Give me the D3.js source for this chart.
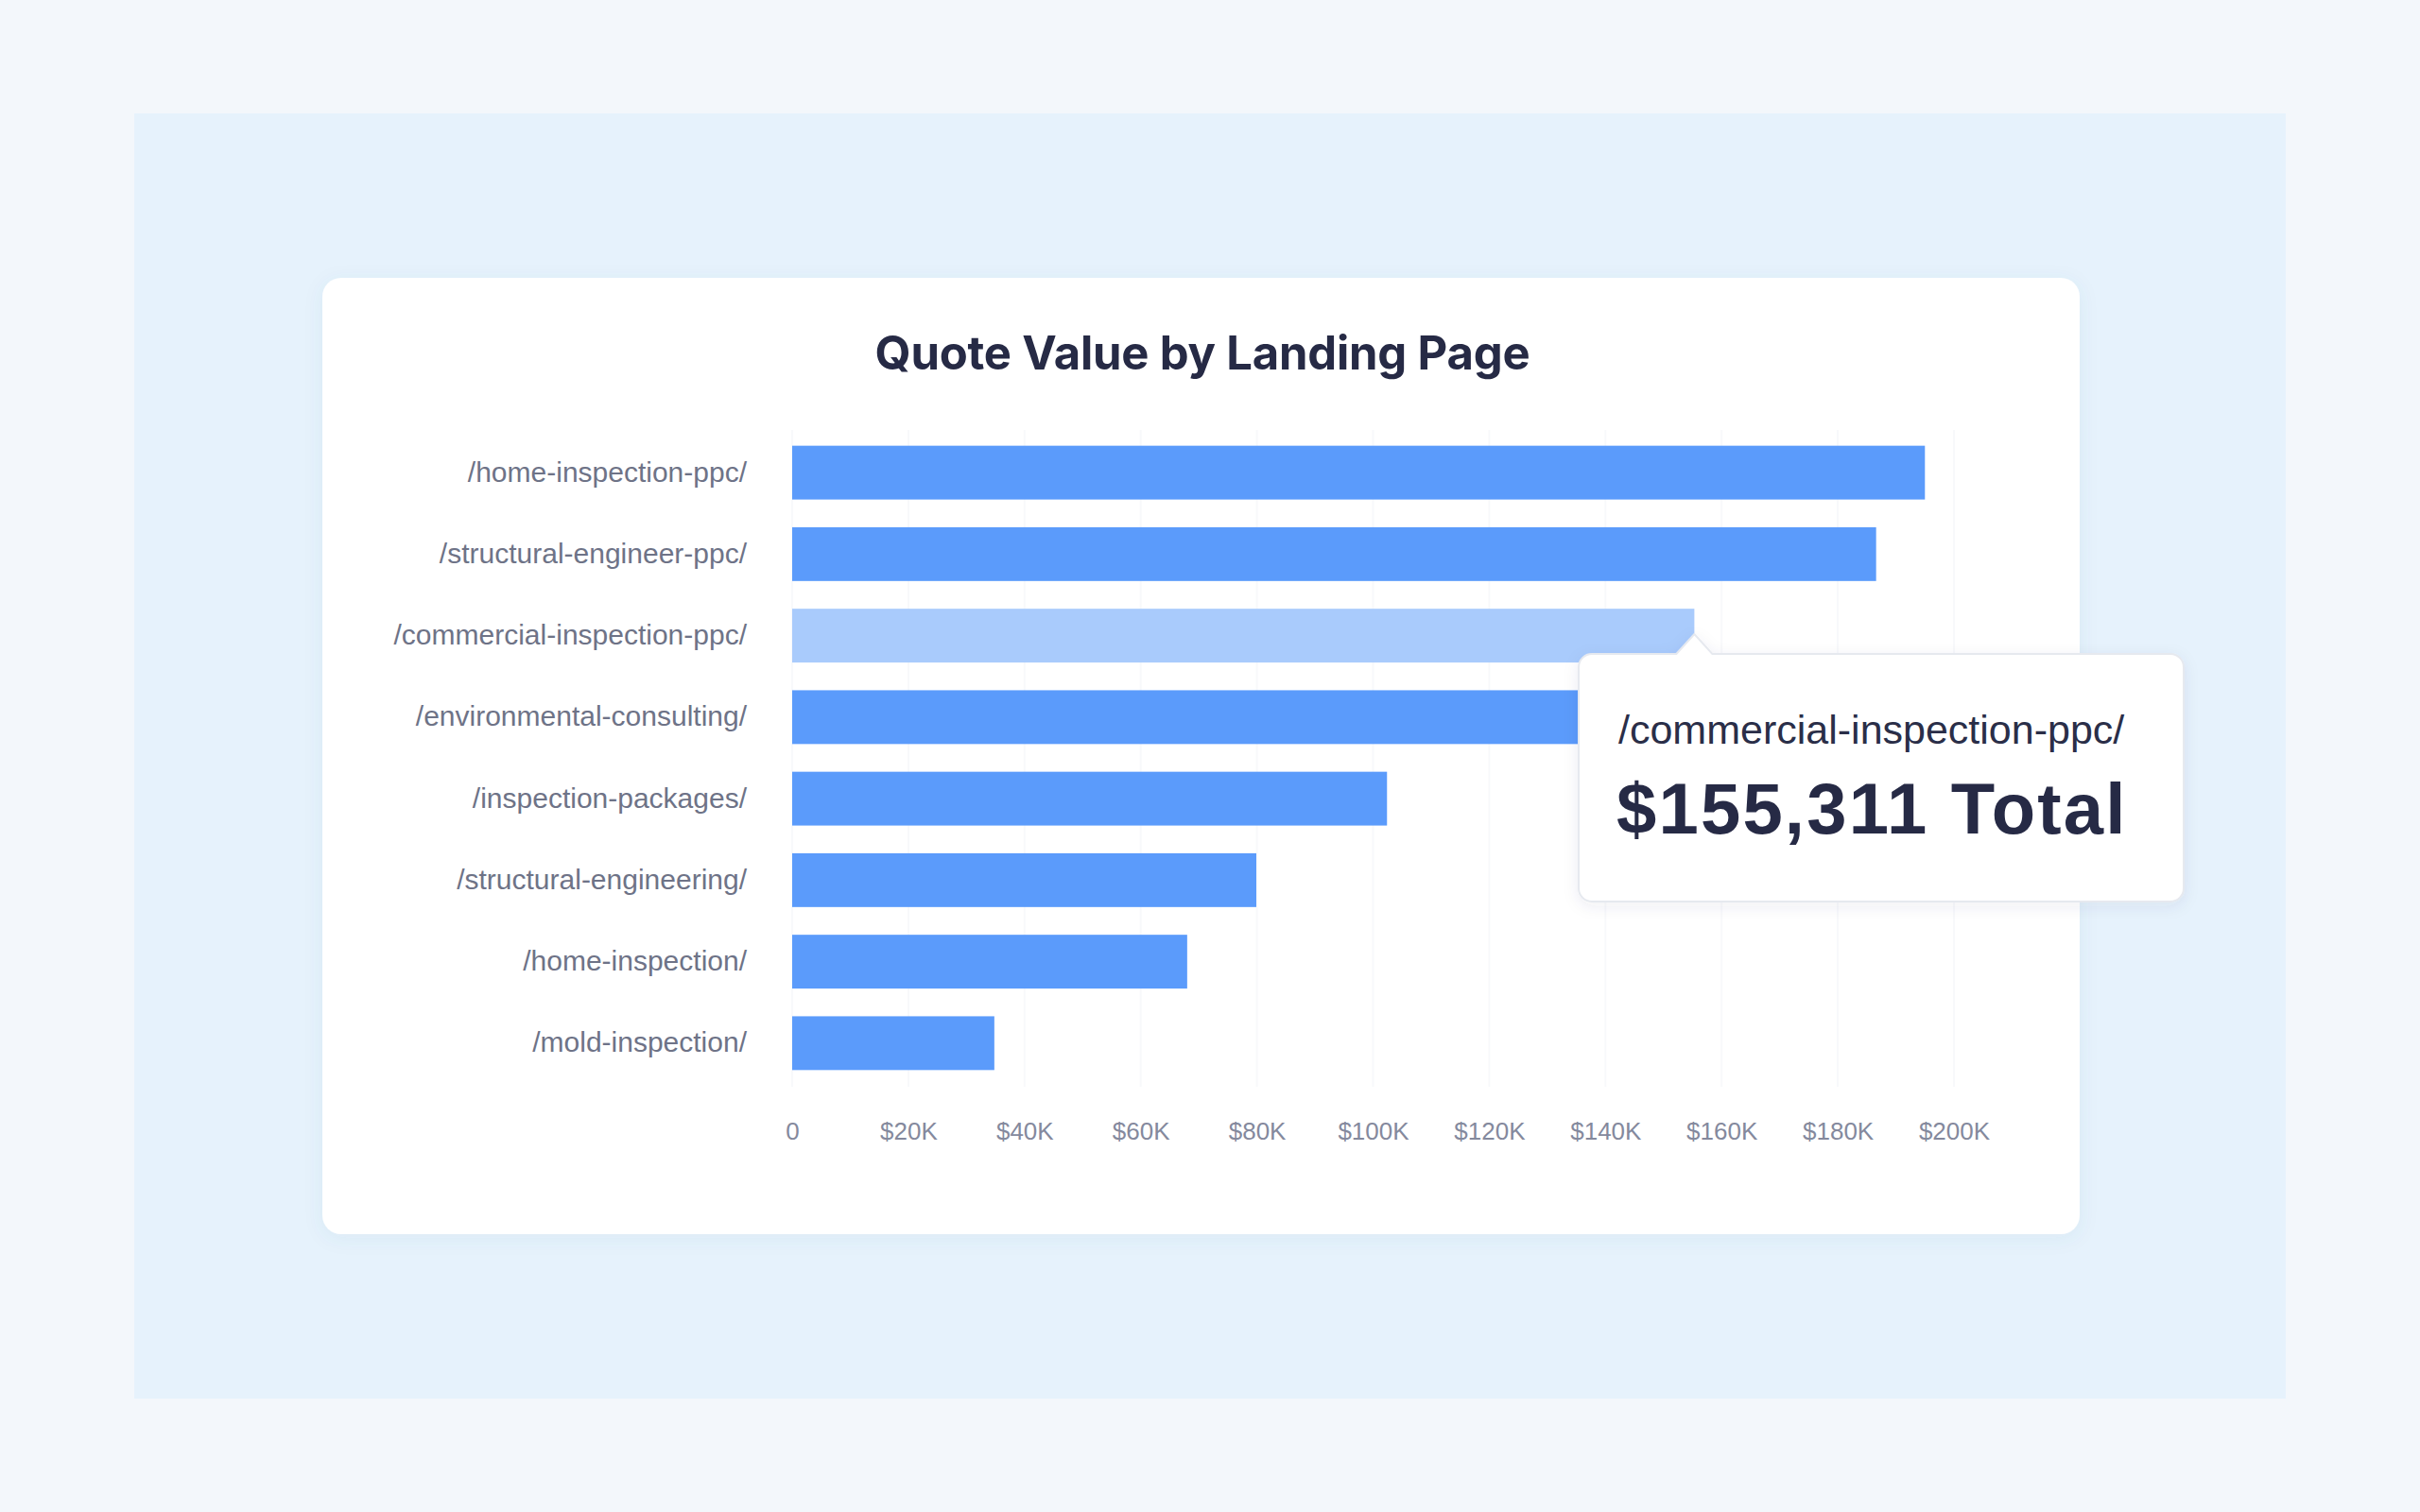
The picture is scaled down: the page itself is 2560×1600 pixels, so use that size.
<!DOCTYPE html>
<html>
<head>
<meta charset="utf-8">
<script src="https://cdn.jsdelivr.net/npm/d3@7"></script>
<style>
  html, body { margin: 0; padding: 0; background: #f3f7fb; }
  svg { display: block; }
</style>
</head>
<body>
<svg id="chart" width="2560" height="1600"></svg>
<script>
// ---- data ----
const title = "Quote Value by Landing Page";
const categories = [
  "/home-inspection-ppc/",
  "/structural-engineer-ppc/",
  "/commercial-inspection-ppc/",
  "/environmental-consulting/",
  "/inspection-packages/",
  "/structural-engineering/",
  "/home-inspection/",
  "/mold-inspection/"
];
const values = [195000, 186600, 155311, 146000, 102400, 79900, 68000, 34800];
const highlighted = "/commercial-inspection-ppc/";
const tickValues = [0, 20000, 40000, 60000, 80000, 100000, 120000, 140000, 160000, 180000, 200000];
const tickLabels = ["0", "$20K", "$40K", "$60K", "$80K", "$100K", "$120K", "$140K", "$160K", "$180K", "$200K"];
const tooltipSuffix = " Total";

// ---- layout ----
const svg = d3.select("#chart");
const defs = svg.append("defs");
const cardShadow = defs.append("filter").attr("id", "cardShadow")
  .attr("x", "-10%").attr("y", "-10%").attr("width", "120%").attr("height", "120%");
cardShadow.append("feDropShadow").attr("dx", 0).attr("dy", 4).attr("stdDeviation", 10)
  .attr("flood-color", "#4a6a8a").attr("flood-opacity", 0.07);
const tipShadow = defs.append("filter").attr("id", "tipShadow")
  .attr("x", "-20%").attr("y", "-20%").attr("width", "140%").attr("height", "140%");
tipShadow.append("feDropShadow").attr("dx", 0).attr("dy", 4).attr("stdDeviation", 8)
  .attr("flood-color", "#3a4a6a").attr("flood-opacity", 0.08);

// background panels
svg.append("rect").attr("x", 0).attr("y", 0).attr("width", 2560).attr("height", 1600).attr("fill", "#f3f7fb");
svg.append("rect").attr("x", 142).attr("y", 120).attr("width", 2418 - 142).attr("height", 1480 - 120).attr("fill", "#e6f2fc");
svg.append("rect").attr("x", 341).attr("y", 294).attr("width", 2200 - 341).attr("height", 1306 - 294)
  .attr("rx", 20).attr("fill", "#ffffff").attr("filter", "url(#cardShadow)");

// title
svg.append("text").attr("x", 1272).attr("y", 391).attr("text-anchor", "middle")
  .style("font-family", "Inter, 'Liberation Sans', Arial, sans-serif")
  .style("font-weight", 700).style("font-size", "49px").style("letter-spacing", "-0.2px")
  .attr("fill", "#262a45").text(title);

// scales
const x = d3.scaleLinear().domain([0, 200000]).range([838, 2067]);
const y = d3.scaleBand().domain(categories).range([457, 1147]).paddingInner(0.34).paddingOuter(0.17);

// gridlines (very faint)
svg.append("g").selectAll("line").data(tickValues).join("line")
  .attr("x1", d => x(d)).attr("x2", d => x(d))
  .attr("y1", 455).attr("y2", 1150)
  .attr("stroke", "#f8f9fb").attr("stroke-width", 2);

// bars
const data = categories.map((c, i) => ({ cat: c, value: values[i] }));
svg.append("g").selectAll("rect").data(data).join("rect")
  .attr("x", x(0))
  .attr("y", d => y(d.cat))
  .attr("width", d => x(d.value) - x(0))
  .attr("height", y.bandwidth())
  .attr("fill", d => d.cat === highlighted ? "#a9cbfc" : "#5b9bfb");

// y axis
const yAxis = svg.append("g").attr("transform", `translate(${x(0)},0)`)
  .call(d3.axisLeft(y).tickSize(0).tickPadding(48));
yAxis.select(".domain").remove();
yAxis.selectAll("text")
  .style("font-family", "'Liberation Sans', Arial, Helvetica, sans-serif")
  .style("font-size", "30px").attr("fill", "#6e7387");

// x axis
const xAxis = svg.append("g").attr("transform", "translate(0,1197)")
  .call(d3.axisBottom(x).tickValues(tickValues).tickSize(0)
    .tickFormat((d, i) => tickLabels[i]));
xAxis.select(".domain").remove();
xAxis.selectAll("text").attr("y", 0).attr("dy", "0.36em")
  .style("font-family", "'Liberation Sans', Arial, Helvetica, sans-serif")
  .style("font-size", "26px").attr("fill", "#84899d");

// tooltip
const hd = data.find(d => d.cat === highlighted);
const tipX = x(hd.value);
const tipY = y(hd.cat) + y.bandwidth() - 30;
const bx0 = 1670, by0 = 692, bx1 = 2310, by1 = 954, r = 14;
const aw = 19, ah = by0 - tipY;
const p = d3.path();
p.moveTo(bx0 + r, by0);
p.lineTo(tipX - aw, by0);
p.lineTo(tipX, by0 - ah);
p.lineTo(tipX + aw, by0);
p.lineTo(bx1 - r, by0);
p.arcTo(bx1, by0, bx1, by0 + r, r);
p.lineTo(bx1, by1 - r);
p.arcTo(bx1, by1, bx1 - r, by1, r);
p.lineTo(bx0 + r, by1);
p.arcTo(bx0, by1, bx0, by1 - r, r);
p.lineTo(bx0, by0 + r);
p.arcTo(bx0, by0, bx0 + r, by0, r);
p.closePath();
svg.append("path").attr("d", p.toString())
  .attr("fill", "#ffffff").attr("stroke", "#e6e9ef").attr("stroke-width", 2)
  .attr("filter", "url(#tipShadow)");
svg.append("text").attr("x", 1712).attr("y", 787)
  .style("font-family", "'Liberation Sans', Arial, Helvetica, sans-serif")
  .style("font-size", "43px").attr("fill", "#2a2e48").text(hd.cat);
svg.append("text").attr("x", 1710).attr("y", 882)
  .style("font-family", "'Liberation Sans', Arial, Helvetica, sans-serif")
  .style("font-weight", 700).style("font-size", "76px").style("letter-spacing", "2.2px")
  .attr("fill", "#262a45")
  .text("$" + d3.format(",")(hd.value) + tooltipSuffix);
</script>
</body>
</html>
